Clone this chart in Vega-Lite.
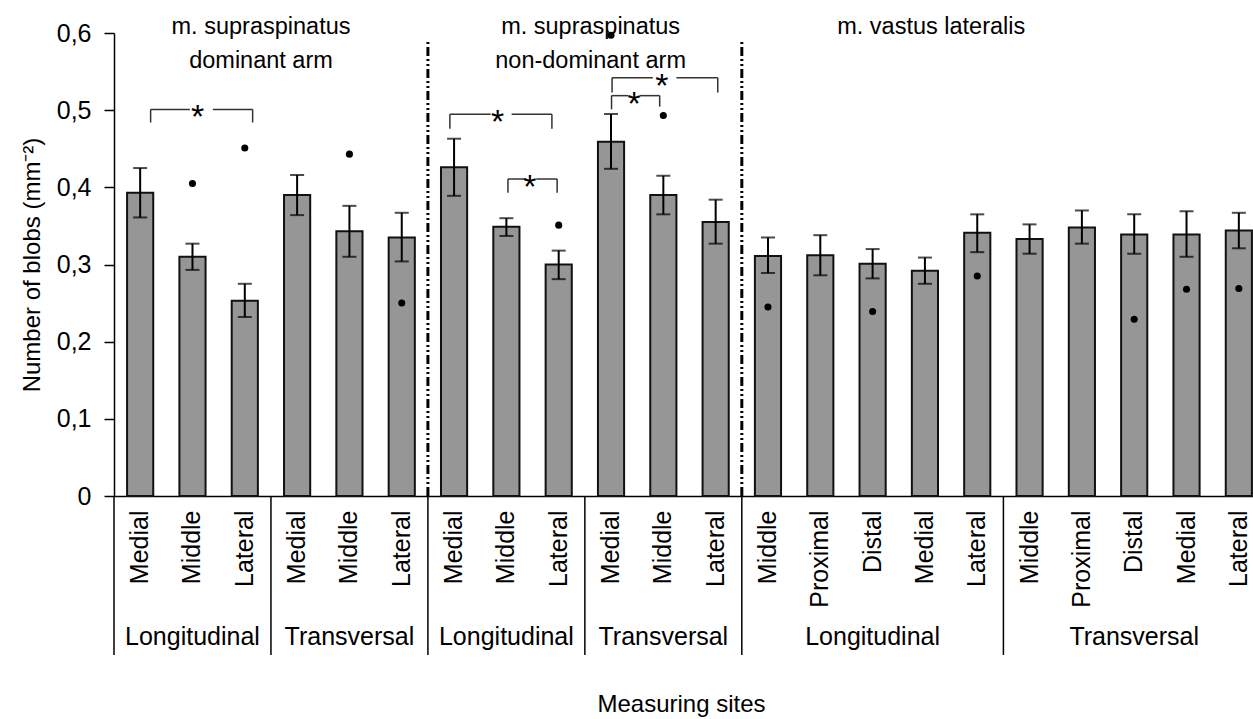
{
  "$schema": "https://vega.github.io/schema/vega-lite/v6.json",
  "width": 1151,
  "height": 463,
  "autosize": {"type": "none"},
  "padding": {"left": 114, "top": 33, "right": -12, "bottom": 223},
  "background": "white",
  "config": {"view": {"stroke": null}, "font": "Liberation Sans"},
  "datasets": {
    "sites": [
      {"site": "01 Medial", "muscle": "m. supraspinatus dominant arm", "orientation": "Longitudinal", "mean": 0.393, "lo": 0.361, "hi": 0.425, "dot": null},
      {"site": "02 Middle", "muscle": "m. supraspinatus dominant arm", "orientation": "Longitudinal", "mean": 0.310, "lo": 0.293, "hi": 0.327, "dot": 0.405},
      {"site": "03 Lateral", "muscle": "m. supraspinatus dominant arm", "orientation": "Longitudinal", "mean": 0.253, "lo": 0.232, "hi": 0.275, "dot": 0.451},
      {"site": "04 Medial", "muscle": "m. supraspinatus dominant arm", "orientation": "Transversal", "mean": 0.390, "lo": 0.364, "hi": 0.416, "dot": null},
      {"site": "05 Middle", "muscle": "m. supraspinatus dominant arm", "orientation": "Transversal", "mean": 0.343, "lo": 0.310, "hi": 0.376, "dot": 0.443},
      {"site": "06 Lateral", "muscle": "m. supraspinatus dominant arm", "orientation": "Transversal", "mean": 0.335, "lo": 0.304, "hi": 0.367, "dot": 0.250},
      {"site": "07 Medial", "muscle": "m. supraspinatus non-dominant arm", "orientation": "Longitudinal", "mean": 0.426, "lo": 0.389, "hi": 0.463, "dot": null},
      {"site": "08 Middle", "muscle": "m. supraspinatus non-dominant arm", "orientation": "Longitudinal", "mean": 0.349, "lo": 0.337, "hi": 0.360, "dot": null},
      {"site": "09 Lateral", "muscle": "m. supraspinatus non-dominant arm", "orientation": "Longitudinal", "mean": 0.300, "lo": 0.281, "hi": 0.318, "dot": 0.351},
      {"site": "10 Medial", "muscle": "m. supraspinatus non-dominant arm", "orientation": "Transversal", "mean": 0.459, "lo": 0.424, "hi": 0.495, "dot": 0.597},
      {"site": "11 Middle", "muscle": "m. supraspinatus non-dominant arm", "orientation": "Transversal", "mean": 0.390, "lo": 0.365, "hi": 0.415, "dot": 0.493},
      {"site": "12 Lateral", "muscle": "m. supraspinatus non-dominant arm", "orientation": "Transversal", "mean": 0.355, "lo": 0.327, "hi": 0.384, "dot": null},
      {"site": "13 Middle", "muscle": "m. vastus lateralis", "orientation": "Longitudinal", "mean": 0.311, "lo": 0.289, "hi": 0.335, "dot": 0.245},
      {"site": "14 Proximal", "muscle": "m. vastus lateralis", "orientation": "Longitudinal", "mean": 0.312, "lo": 0.286, "hi": 0.338, "dot": null},
      {"site": "15 Distal", "muscle": "m. vastus lateralis", "orientation": "Longitudinal", "mean": 0.301, "lo": 0.282, "hi": 0.320, "dot": 0.239},
      {"site": "16 Medial", "muscle": "m. vastus lateralis", "orientation": "Longitudinal", "mean": 0.292, "lo": 0.275, "hi": 0.309, "dot": null},
      {"site": "17 Lateral", "muscle": "m. vastus lateralis", "orientation": "Longitudinal", "mean": 0.341, "lo": 0.316, "hi": 0.365, "dot": 0.285},
      {"site": "18 Middle", "muscle": "m. vastus lateralis", "orientation": "Transversal", "mean": 0.333, "lo": 0.314, "hi": 0.352, "dot": null},
      {"site": "19 Proximal", "muscle": "m. vastus lateralis", "orientation": "Transversal", "mean": 0.348, "lo": 0.327, "hi": 0.370, "dot": null},
      {"site": "20 Distal", "muscle": "m. vastus lateralis", "orientation": "Transversal", "mean": 0.339, "lo": 0.314, "hi": 0.365, "dot": 0.229},
      {"site": "21 Medial", "muscle": "m. vastus lateralis", "orientation": "Transversal", "mean": 0.339, "lo": 0.310, "hi": 0.369, "dot": 0.268},
      {"site": "22 Lateral", "muscle": "m. vastus lateralis", "orientation": "Transversal", "mean": 0.344, "lo": 0.321, "hi": 0.367, "dot": 0.269}
    ],
    "brackets": [
      {"x": 0.70, "x2": 1.45, "y": 0.501, "y2": 0.501},
      {"x": 1.89, "x2": 2.65, "y": 0.501, "y2": 0.501},
      {"x": 0.70, "x2": 0.70, "y": 0.501, "y2": 0.484},
      {"x": 2.65, "x2": 2.65, "y": 0.501, "y2": 0.484},
      {"x": 6.42, "x2": 7.20, "y": 0.4946, "y2": 0.4946},
      {"x": 7.60, "x2": 8.37, "y": 0.4946, "y2": 0.4946},
      {"x": 6.42, "x2": 6.42, "y": 0.4946, "y2": 0.476},
      {"x": 8.37, "x2": 8.37, "y": 0.4946, "y2": 0.476},
      {"x": 7.53, "x2": 7.87, "y": 0.4108, "y2": 0.4108},
      {"x": 8.07, "x2": 8.47, "y": 0.4108, "y2": 0.4108},
      {"x": 7.53, "x2": 7.53, "y": 0.4108, "y2": 0.393},
      {"x": 8.47, "x2": 8.47, "y": 0.4108, "y2": 0.393},
      {"x": 9.51, "x2": 9.83, "y": 0.5188, "y2": 0.5188},
      {"x": 10.05, "x2": 10.43, "y": 0.5188, "y2": 0.5188},
      {"x": 9.51, "x2": 9.51, "y": 0.5188, "y2": 0.501},
      {"x": 10.43, "x2": 10.43, "y": 0.5188, "y2": 0.5045},
      {"x": 9.52, "x2": 10.30, "y": 0.542, "y2": 0.542},
      {"x": 10.75, "x2": 11.54, "y": 0.542, "y2": 0.542},
      {"x": 9.52, "x2": 9.52, "y": 0.542, "y2": 0.523},
      {"x": 11.54, "x2": 11.54, "y": 0.542, "y2": 0.523}
    ],
    "stars": [
      {"x": 1.60, "y": 0.501},
      {"x": 7.33, "y": 0.4946},
      {"x": 7.95, "y": 0.4108},
      {"x": 9.94, "y": 0.5188},
      {"x": 10.47, "y": 0.542}
    ],
    "dividers": [
      {"x": 0, "y": 0, "y2": -0.206},
      {"x": 3, "y": 0, "y2": -0.206},
      {"x": 6, "y": 0, "y2": -0.206},
      {"x": 9, "y": 0, "y2": -0.206},
      {"x": 12, "y": 0, "y2": -0.206},
      {"x": 17, "y": 0, "y2": -0.206},
      {"x": 22, "y": 0, "y2": -0.206}
    ],
    "separators": [
      {"x": 6, "y": 0, "y2": 0.589},
      {"x": 12, "y": 0, "y2": 0.589}
    ],
    "groups": [
      {"x": 1.5, "y": -0.193, "label": "Longitudinal"},
      {"x": 4.5, "y": -0.193, "label": "Transversal"},
      {"x": 7.5, "y": -0.193, "label": "Longitudinal"},
      {"x": 10.5, "y": -0.193, "label": "Transversal"},
      {"x": 14.5, "y": -0.193, "label": "Longitudinal"},
      {"x": 19.5, "y": -0.193, "label": "Transversal"}
    ],
    "muscles": [
      {"x": 2.81, "y": 0.599, "label": ["m. supraspinatus", "dominant arm"]},
      {"x": 9.11, "y": 0.599, "label": ["m. supraspinatus", "non-dominant arm"]},
      {"x": 15.62, "y": 0.599, "label": ["m. vastus lateralis"]}
    ]
  },
  "resolve": {"scale": {"x": "independent"}},
  "layer": [
    {
      "data": {"name": "sites"},
      "layer": [
        {
          "mark": {"type": "bar", "fill": "#969696", "stroke": "#111111", "strokeWidth": 2},
          "encoding": {
            "x": {
              "field": "site", "type": "nominal",
              "scale": {
                "domain": ["01 Medial", "02 Middle", "03 Lateral", "04 Medial", "05 Middle", "06 Lateral", "07 Medial", "08 Middle", "09 Lateral", "10 Medial", "11 Middle", "12 Lateral", "13 Middle", "14 Proximal", "15 Distal", "16 Medial", "17 Lateral", "18 Middle", "19 Proximal", "20 Distal", "21 Medial", "22 Lateral"],
                "paddingInner": 0.5, "paddingOuter": 0.25
              },
              "axis": {
                "title": "Measuring sites",
                "labelAngle": -90,
                "labelExpr": "substring(datum.value, 3)",
                "ticks": false,
                "tickSize": 0,
                "labelPadding": 14,
                "labelFontSize": 25,
                "labelColor": "black",
                "labelOverlap": false,
                "labelLimit": 300,
                "domainColor": "black",
                "domainWidth": 1.5,
                "titleFontSize": 24,
                "titleFontWeight": "normal",
                "titleColor": "black",
                "titleBaseline": "alphabetic",
                "titleY": 215,
                "titleX": 567
              }
            },
            "y": {
              "field": "mean", "type": "quantitative",
              "title": "Number of blobs (mm⁻²)",
              "scale": {"domain": [0, 0.6], "nice": false},
              "axis": {
                "values": [0, 0.1, 0.2, 0.3, 0.4, 0.5, 0.6],
                "labelExpr": "replace(format(datum.value, '.1~f'), '.', ',')",
                "grid": false,
                "tickSize": 10,
                "tickColor": "black",
                "tickWidth": 1.5,
                "domainColor": "black",
                "domainWidth": 1.5,
                "labelFontSize": 25,
                "labelColor": "black",
                "labelPadding": 13,
                "titleFontSize": 24,
                "titleFontWeight": "normal",
                "titleColor": "black",
                "titlePadding": 12
              }
            }
          }
        },
        {
          "mark": {"type": "errorbar", "ticks": {"size": 14, "thickness": 2, "color": "black"}, "rule": {"strokeWidth": 2, "color": "black"}},
          "encoding": {
            "x": {"field": "site", "type": "nominal"},
            "y": {"field": "lo", "type": "quantitative", "title": "Number of blobs (mm⁻²)", "scale": {"domain": [0, 0.6], "nice": false}},
            "y2": {"field": "hi"}
          }
        },
        {
          "mark": {"type": "circle", "size": 50, "color": "black", "opacity": 1},
          "encoding": {
            "x": {"field": "site", "type": "nominal"},
            "y": {"field": "dot", "type": "quantitative", "title": "Number of blobs (mm⁻²)", "scale": {"domain": [0, 0.6], "nice": false}}
          }
        }
      ]
    },
    {
      "layer": [
        {
          "data": {"name": "separators"},
          "mark": {"type": "rule", "color": "black", "strokeWidth": 3, "strokeDash": [9, 3, 2, 3, 2, 3]},
          "encoding": {
            "x": {"field": "x", "type": "quantitative", "scale": {"domain": [0, 22], "nice": false, "zero": false}, "axis": null},
            "y": {"field": "y", "type": "quantitative", "title": "Number of blobs (mm⁻²)", "scale": {"domain": [0, 0.6], "nice": false}},
            "y2": {"field": "y2"}
          }
        },
        {
          "data": {"name": "dividers"},
          "mark": {"type": "rule", "color": "black", "strokeWidth": 1.5},
          "encoding": {
            "x": {"field": "x", "type": "quantitative", "scale": {"domain": [0, 22], "nice": false, "zero": false}, "axis": null},
            "y": {"field": "y", "type": "quantitative", "title": "Number of blobs (mm⁻²)", "scale": {"domain": [0, 0.6], "nice": false}},
            "y2": {"field": "y2"}
          }
        },
        {
          "data": {"name": "brackets"},
          "mark": {"type": "rule", "color": "#333333", "strokeWidth": 1.5},
          "encoding": {
            "x": {"field": "x", "type": "quantitative", "scale": {"domain": [0, 22], "nice": false, "zero": false}, "axis": null},
            "x2": {"field": "x2"},
            "y": {"field": "y", "type": "quantitative", "title": "Number of blobs (mm⁻²)", "scale": {"domain": [0, 0.6], "nice": false}},
            "y2": {"field": "y2"}
          }
        },
        {
          "data": {"name": "stars"},
          "mark": {"type": "text", "text": "*", "fontSize": 34, "baseline": "alphabetic", "align": "center", "dy": 19, "color": "black"},
          "encoding": {
            "x": {"field": "x", "type": "quantitative", "scale": {"domain": [0, 22], "nice": false, "zero": false}, "axis": null},
            "y": {"field": "y", "type": "quantitative", "title": "Number of blobs (mm⁻²)", "scale": {"domain": [0, 0.6], "nice": false}}
          }
        },
        {
          "data": {"name": "groups"},
          "mark": {"type": "text", "fontSize": 25, "baseline": "alphabetic", "align": "center", "color": "black"},
          "encoding": {
            "x": {"field": "x", "type": "quantitative", "scale": {"domain": [0, 22], "nice": false, "zero": false}, "axis": null},
            "y": {"field": "y", "type": "quantitative", "title": "Number of blobs (mm⁻²)", "scale": {"domain": [0, 0.6], "nice": false}},
            "text": {"field": "label"}
          }
        },
        {
          "data": {"name": "muscles"},
          "mark": {"type": "text", "fontSize": 23.5, "baseline": "alphabetic", "align": "center", "lineHeight": 34, "color": "black"},
          "encoding": {
            "x": {"field": "x", "type": "quantitative", "scale": {"domain": [0, 22], "nice": false, "zero": false}, "axis": null},
            "y": {"field": "y", "type": "quantitative", "title": "Number of blobs (mm⁻²)", "scale": {"domain": [0, 0.6], "nice": false}},
            "text": {"field": "label"}
          }
        }
      ]
    }
  ]
}
